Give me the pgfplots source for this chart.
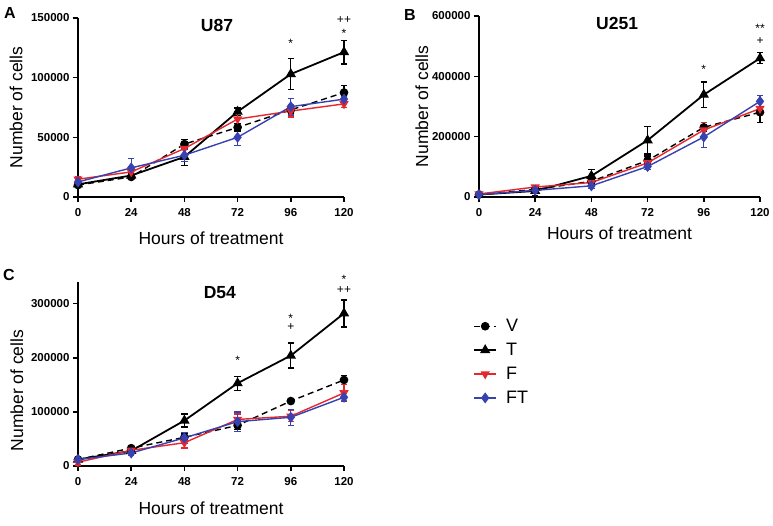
\documentclass[border=0pt]{standalone}
\usepackage{fontspec}
\setmainfont{Liberation Sans}
\usepackage{pgfplots}
\usepackage{pgfplotstable}
\pgfplotsset{compat=1.18}
\definecolor{myred}{RGB}{228,40,45}
\definecolor{myblue}{RGB}{55,65,175}

\pgfplotstableread{
x V Ve T Te F Fe FT FTe
0 10000 2000 10600 2000 14900 2000 12600 2000
24 16800 2000 18000 2000 21000 2000 24400 8000
48 44300 4000 33600 7000 40600 6000 35000 5000
72 58300 3000 71500 3000 65300 6000 50000 7000
96 73000 3000 103000 13000 72000 5000 75700 7000
120 87500 6000 121400 10000 78000 3000 82000 2000
}\dataA

\pgfplotstableread{
x V Ve T Te F Fe FT FTe
0 8000 3000 8000 3000 10000 3000 8000 3000
24 25000 5000 20000 15000 33000 5000 22000 5000
48 52000 8000 70000 20000 48000 5000 37000 8000
72 121000 15000 188000 45000 113000 10000 101000 10000
96 231000 15000 339000 42000 222000 25000 199000 35000
120 281000 35000 460000 18000 293000 20000 317000 20000
}\dataB

\pgfplotstableread{
x V Ve T Te F Fe FT FTe
0 12000 3000 12000 3000 7000 5000 12000 3000
24 33000 4000 28000 4000 29000 4000 24000 4000
48 53000 8000 84000 12000 43000 10000 52000 10000
72 75000 8000 153000 13000 86000 10000 82000 18000
96 120000 5000 204000 23000 92000 10000 90000 15000
120 159000 8000 282000 25000 135000 15000 127000 8000
}\dataC

\tikzset{ann/.style={font=\fontsize{12}{12}\selectfont, inner sep=0pt}}

\pgfplotsset{
  panel/.style={
    scale only axis,
    axis lines=left,
    axis line style={-, line width=1.6pt, black},
    tick align=outside,
    major tick length=5pt,
    tick style={line width=1.6pt, black},
    xmin=0, xmax=120,
    xtick={0,24,48,72,96,120},
    ymin=0,
    scaled y ticks=false,
    /pgf/number format/assume math mode=true,
    yticklabel style={/pgf/number format/fixed, /pgf/number format/1000 sep={}},
    xticklabel style={yshift=-3pt},
    tick label style={font=\bfseries\fontsize{11.5}{13}\selectfont},
    label style={font=\fontsize{17.5}{20}\selectfont},
    xlabel={Hours of treatment},
    ylabel={Number of cells},
    clip=false,
    legend image code/.code={\draw[mark repeat=2,mark phase=2,##1] plot coordinates {(0pt,0pt) (11pt,0pt) (22pt,0pt)};},
  },
  ebar/.style={error bars/.cd, y dir=both, y explicit,
    error bar style={solid, line width=1.3pt},
    error mark=|, error mark options={solid, line width=1.3pt, mark size=3.2pt}},
  Vs/.style={black, dash pattern=on 6pt off 4pt, line width=1.4pt, mark=*, mark size=3.6pt, mark options={solid}, ebar},
  Ts/.style={black, solid, line width=1.8pt, mark=triangle*, mark size=4.2pt, mark options={solid}, ebar},
  Fs/.style={myred, solid, line width=1.4pt, mark=triangle*, mark size=4pt, mark options={solid, rotate=180}, ebar},
  FTs/.style={myblue, solid, line width=1.4pt, mark=diamond*, mark size=4.4pt, mark options={solid}, ebar},
}

\begin{document}
\begin{tikzpicture}[x=1pt,y=1pt]
\useasboundingbox (0,0) rectangle (773,526);

\node[font=\bfseries\fontsize{16}{18}\selectfont] at (10,513) {A};
\node[font=\bfseries\fontsize{16}{18}\selectfont] at (410,511) {B};
\node[font=\bfseries\fontsize{16}{18}\selectfont] at (9,251) {C};

% Panel A
\begin{axis}[panel, at={(78pt,329pt)}, anchor=south west, width=266pt, height=179pt,
  ymax=150000, ytick={0,50000,100000,150000},
  xlabel style={at={(axis description cs:0.5,-0.229)}, anchor=center},
  ylabel style={at={(axis description cs:-0.233,0.5)}, anchor=center}]
\addplot[Vs] table[x=x,y=V,y error=Ve] {\dataA};
\addplot[Ts] table[x=x,y=T,y error=Te] {\dataA};
\addplot[Fs] table[x=x,y=F,y error=Fe] {\dataA};
\addplot[FTs] table[x=x,y=FT,y error=FTe] {\dataA};
\node[font=\bfseries\fontsize{17.5}{19}\selectfont] at (axis cs:62.7,144000) {U87};
\node[ann] at (axis cs:96,128500) {*};
\node[ann] at (axis cs:120,137300) {*};
\node[ann] at (axis cs:120,148600) {++};
\end{axis}

% Panel B
\begin{axis}[panel, at={(479pt,329pt)}, anchor=south west, width=281pt, height=181pt,
  ymax=600000, ytick={0,200000,400000,600000},
  xlabel style={at={(axis description cs:0.5,-0.2)}, anchor=center},
  ylabel style={at={(axis description cs:-0.203,0.5)}, anchor=center}]
\addplot[Vs] table[x=x,y=V,y error=Ve] {\dataB};
\addplot[Ts] table[x=x,y=T,y error=Te] {\dataB};
\addplot[Fs] table[x=x,y=F,y error=Fe] {\dataB};
\addplot[FTs] table[x=x,y=FT,y error=FTe] {\dataB};
\node[font=\bfseries\fontsize{17.5}{19}\selectfont] at (axis cs:59,574000) {U251};
\node[ann] at (axis cs:96,423000) {*};
\node[ann] at (axis cs:120,518000) {+};
\node[ann] at (axis cs:120,559000) {**};
\end{axis}

% Panel C
\begin{axis}[panel, at={(78pt,60pt)}, anchor=south west, width=266pt, height=184pt,
  ymax=340000, ytick={0,100000,200000,300000},
  xlabel style={at={(axis description cs:0.5,-0.228)}, anchor=center},
  ylabel style={at={(axis description cs:-0.23,0.41)}, anchor=center},
  legend style={draw=none, fill=none, at={(axis description cs:1.474,0.82)}, anchor=north west,
    font=\fontsize{18}{20}\selectfont, row sep=6pt, column sep=7pt},
  legend cell align=left]
\addplot[Vs] table[x=x,y=V,y error=Ve] {\dataC};
\addplot[Ts] table[x=x,y=T,y error=Te] {\dataC};
\addplot[Fs] table[x=x,y=F,y error=Fe] {\dataC};
\addplot[FTs] table[x=x,y=FT,y error=FTe] {\dataC};
\legend{V,T,F,FT}
\node[font=\bfseries\fontsize{17.5}{19}\selectfont] at (axis cs:64,320000) {D54};
\node[ann] at (axis cs:72,196000) {*};
\node[ann] at (axis cs:96,273000) {*};
\node[ann] at (axis cs:96,257000) {+};
\node[ann] at (axis cs:120,344000) {*};
\node[ann] at (axis cs:120,326000) {++};
\end{axis}
\end{tikzpicture}
\end{document}
